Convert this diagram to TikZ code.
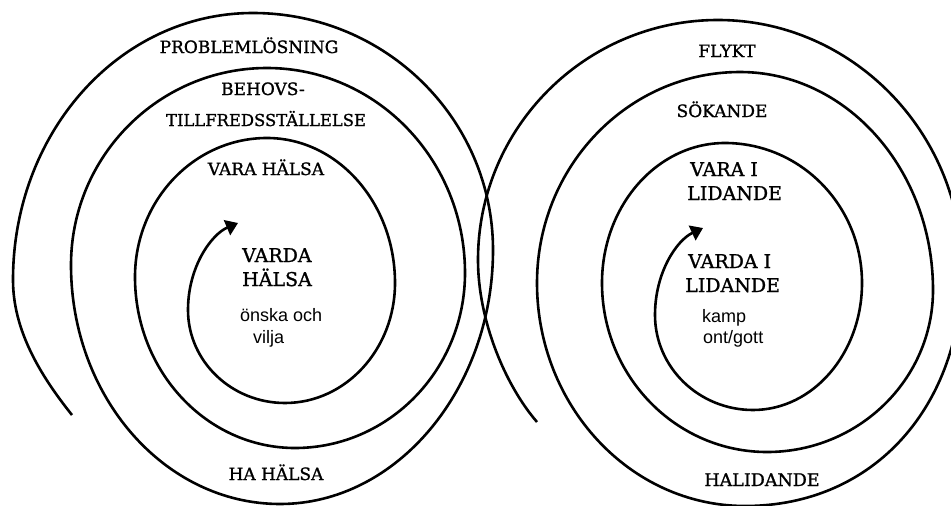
\documentclass[tikz,border=0pt]{standalone}
\usepackage{fontspec}
\setmainfont{DejaVu Serif}
\newfontfamily\labserif{DejaVu Serif}[FakeBold=1.2]
\newfontfamily\labsans{Liberation Sans}
\usetikzlibrary{arrows.meta}
\tikzset{
  spiral/.style={line width=2.6pt},
  tipped/.style={-{Triangle[length=12pt,width=16pt]}},
  lab/.style={inner sep=0pt, font=\labserif\fontsize{17}{20}\selectfont},
  biglab/.style={inner sep=0pt, font=\labserif\fontsize{19}{22}\selectfont},
  small/.style={inner sep=0pt, font=\labsans\fontsize{18}{20}\selectfont}
}
\begin{document}
\begin{tikzpicture}[x=1pt,y=-1pt]
\useasboundingbox (0,0) rectangle (951,506);
\fill[white] (0,0) rectangle (951,506);
\clip (0,0) rectangle (951,506);
% left spiral
\draw[spiral, tipped]
 (72,415) .. controls (40,375) and (13,330) .. (13,280)
 .. controls (13,132.6) and (119.2,13) .. (253,13)
 .. controls (385.5,13) and (493,119.2) .. (493,250)
 .. controls (493,388) and (397.6,504) .. (280,504)
 .. controls (164.6,504) and (71,397) .. (71,265)
 .. controls (71,156.3) and (158.8,68) .. (267,68)
 .. controls (376.3,68) and (465,159.8) .. (465,273)
 .. controls (465,369.6) and (388.8,448) .. (295,448)
 .. controls (206.7,448) and (135,371.4) .. (135,277)
 .. controls (135,200.3) and (194.1,138) .. (267,138)
 .. controls (337.7,138) and (395,203) .. (395,283)
 .. controls (395,349.2) and (345.7,403) .. (285,403)
 .. controls (231.5,403) and (188,361.3) .. (188,310)
 .. controls (188,266) and (212,234) .. (238,223);
% right spiral
\draw[spiral, tipped]
 (537,422) .. controls (505,385) and (478,320) .. (478,260)
 .. controls (478,127.5) and (585.5,20) .. (718,20)
 .. controls (851.6,20) and (962,132) .. (962,270)
 .. controls (962,405) and (875,506) .. (745,506)
 .. controls (630,506) and (537,405.5) .. (537,283)
 .. controls (537,166.5) and (628,72) .. (740,72)
 .. controls (846.5,72) and (933,169.7) .. (933,290)
 .. controls (933,379.4) and (858.6,452) .. (767,452)
 .. controls (675.9,452) and (602,376.3) .. (602,283)
 .. controls (602,205.7) and (657.1,143) .. (725,143)
 .. controls (800.6,143) and (862,205.7) .. (862,283)
 .. controls (862,353.1) and (813.2,410) .. (753,410)
 .. controls (698.9,410) and (655,367.4) .. (655,315)
 .. controls (655,272) and (677,240) .. (703,228);
% left labels
\node[lab, anchor=base] (prob) at (249,53) {PROBLEMLÖSNING};
\node[lab, anchor=base] (beh1) at (263,95) {BEHOVS-};
\node[lab, anchor=base, font=\labserif\fontsize{16.4}{20}\selectfont] (beh2) at (266,126) {TILLFREDSSTÄLLELSE};
\node[lab, anchor=base] (varah) at (266,175) {VARA HÄLSA};
\node[biglab, anchor=base west] (vard1) at (242,262) {VARDA};
\node[biglab, anchor=base west] (vard2) at (242,286) {HÄLSA};
\node[small, anchor=base west] (onska) at (240,321) {önska och};
\node[small, anchor=base west] (vilja) at (253,343) {vilja};
\node[lab, anchor=base] (hah) at (276,480) {HA HÄLSA};
% right labels
\node[lab, anchor=base] (flykt) at (727,57) {FLYKT};
\node[lab, anchor=base] (sok) at (722,117) {SÖKANDE};
\node[biglab, anchor=base west] (vi1) at (690,176) {VARA I};
\node[biglab, anchor=base west] (vi2) at (687,200) {LIDANDE};
\node[biglab, anchor=base west] (vdi1) at (688,268) {VARDA I};
\node[biglab, anchor=base west] (vdi2) at (685,292) {LIDANDE};
\node[small, anchor=base west] (kamp) at (702,322) {kamp};
\node[small, anchor=base west] (ontgott) at (703,343) {ont/gott};
\node[lab, anchor=base, font=\labserif\fontsize{17.5}{20}\selectfont] (halid) at (762,486) {HALIDANDE};
\end{tikzpicture}
\end{document}
